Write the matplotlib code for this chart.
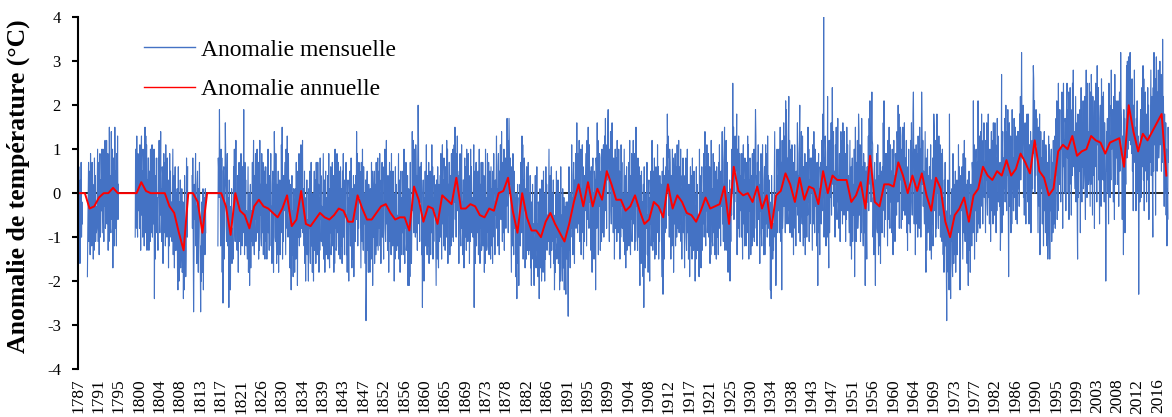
import numpy as np
import matplotlib
matplotlib.use("Agg")
import matplotlib.pyplot as plt

plt.rcParams['font.family'] = ['Liberation Serif', 'DejaVu Sans']
plt.rcParams['axes.unicode_minus'] = False

FIRST_YEAR = 1787
LABEL_EVERY = 52  # one category label every 52 months

# Monthly anomalies, tenths of degC, one row per year (Jan..Dec); None = no data
monthly_1787_1829 = [
    [5, -17, 6, -12, 0, -16, 3, -5, 7, -10, -2, -7],
    [None] * 12,
    [-19, -8, -1, 7, -11, -6, 5, -14, 9, -9, 0, -12],
    [7, -8, 2, -15, -1, -13, 8, -6, 4, -11, -3, -9],
    [-8, 2, 10, -11, -3, 7, -14, 4, 9, -10, 3, -4],
    [-4, 10, -9, 2, 10, -6, -11, 7, -3, 12, -8, -5],
    [-2, 12, -7, -5, 9, -13, 6, -11, 15, -3, 4, -8],
    [-9, 14, -3, -6, 10, -17, 4, 8, -5, -12, 15, 1],
    [-8, 5, -12, 9, -3, 13, -6, 2, None, None, None, None],
    [None] * 12,
    [None] * 12,
    [None] * 12,
    [None, None, -10, 10, 2, -8, 13, -5, -10, 9, -4, 3],
    [6, -8, 11, 0, -13, 8, 13, -5, 5, -10, 10, 7],
    [2, -12, 7, 15, -9, 13, -6, 11, -13, 3, -4, 8],
    [8, -13, 2, 5, -11, 10, -5, -9, 4, 11, -10, -2],
    [6, -7, 10, -24, 1, -15, 4, -4, 8, -9, -1, -6],
    [-13, 8, -1, 12, -6, -9, 4, 14, -5, 1, -11, 6],
    [4, -16, 1, 9, -9, -4, 7, -12, 11, -7, 2, -10],
    [8, -7, 3, -17, 0, -12, 9, -5, 5, -10, -2, -8],
    [-11, -1, 10, -14, -6, 4, -17, 1, 6, -13, 0, -7],
    [-13, 1, -18, -22, 6, -15, -20, -2, -12, 3, -17, -14],
    [-13, 1, -18, -16, -2, -24, -5, -22, 4, -14, -7, -19],
    [-13, 8, -7, -10, 6, None, None, None, None, None, None, None],
    [None, None, None, 4, -8, 8, -11, -27, -15, 2, -6, -1],
    [9, -12, -3, -16, 2, 5, -8, -18, 1, -5, 7, -10],
    [-15, -27, -12, -20, -2, -7, -18, 1, -22, -4, -13, -1],
    [-14, 1, -9, None, None, None, None, None, None, None, None, None],
    [None] * 12,
    [None, None, None, None, None, None, None, None, None, -12, 8, 5],
    [-1, 19, 4, 2, -12, 10, -9, 8, -18, 0, -25, 5],
    [6, -15, 0, 3, 16, 8, -7, -11, 2, 9, -12, -4],
    [-1, -26, 3, -18, -6, -22, -3, -11, 1, -16, -8, -13],
    [-15, 6, -3, 10, -8, -11, 2, 12, -7, -1, -13, 4],
    [2, -18, -1, 7, -11, -6, 5, -14, 9, -9, 0, -12],
    [6, -9, 1, 19, -2, -14, 7, -7, 3, -12, -4, -10],
    [-15, -5, 6, -18, -10, 0, -21, -3, 2, -17, -4, -11],
    [-7, 7, -12, -1, 12, -9, -14, 4, -6, 9, -11, -8],
    [-4, 10, -9, -7, 7, -15, 4, -13, 12, -5, 2, -10],
    [-12, 9, -6, -9, 7, -14, 1, 5, -8, -15, 6, -2],
    [-11, 2, -15, 6, -6, 10, -9, -1, -13, 4, -4, 1],
    [9, -12, -3, -16, 2, 5, -8, -18, 1, 14, 7, -10],
    [-11, 9, -8, -16, 2, -3, -14, 5, -18, 0, -9, 3],
]

monthly_1830_1879 = [
    [-14, 1, -9, 11, -6, 15, -15, -1, -11, 4, -4, 2],
    [7, -3, -14, 10, 2, -8, 13, -5, -10, 9, -4, 3],
    [-3, -17, 2, -9, -22, -1, 4, -14, -4, -19, 1, -2],
    [-4, -18, 1, -1, -15, 7, -12, 5, -21, -3, -10, 2],
    [9, -12, 3, 6, -10, 11, -4, -8, 5, 12, -9, -1],
    [1, -12, 5, -16, -4, -20, -1, -9, 3, -14, -6, -11],
    [-20, 1, -8, 5, -13, -16, -3, 7, -12, -6, -18, -1],
    [0, -20, -3, 5, -13, -8, 3, -16, 7, -11, -2, -14],
    [7, -8, 2, -18, -1, -13, 8, -6, 4, -11, -3, -9],
    [-12, -2, 9, -15, -7, 3, -18, 0, 5, -14, -1, -8],
    [-10, 4, -15, -4, 9, -12, -17, 1, -9, 6, -14, -11],
    [-7, 7, -12, -10, 4, -18, 1, -16, 10, -8, -1, -13],
    [-12, 9, -6, -9, 7, -14, 1, 5, -8, -15, 6, -2],
    [-12, 1, -16, 5, -7, 9, -10, -2, -14, 3, -5, 0],
    [7, -14, -5, -18, 0, 3, -10, -20, -1, -7, 5, -12],
    [-12, 8, -9, -17, 1, -4, -15, 4, -19, -1, -10, 2],
    [-11, 4, -6, 14, -3, 9, -12, 2, -8, 7, -1, 5],
    [4, -6, -17, 7, -1, -11, 10, -8, -13, 6, -7, 0],
    [-2, -16, 3, -29, -21, 0, 5, -13, -3, -18, 2, -1],
    [-4, -18, 1, -1, -15, 7, -12, 5, -21, -3, -10, 2],
    [5, -16, -1, 2, -14, 7, -8, -12, 1, 8, -13, -5],
    [5, -8, 9, -12, 0, -16, 3, -5, 7, -10, -2, -7],
    [-15, 6, -3, 10, -8, -11, 2, 12, -7, -1, -13, 4],
    [2, -18, -1, 7, -11, -6, 5, -14, 9, -9, 0, -12],
    [5, -10, 0, -20, -3, -15, 6, -8, 2, -13, -5, -11],
    [-12, -2, 9, -15, -7, 3, -18, 0, 5, -14, -1, -8],
    [-9, 5, -14, -3, 10, -11, -16, 2, -8, 7, -13, -10],
    [-10, 4, -21, -13, 1, -21, -2, -19, 7, -11, -4, -16],
    [-7, 14, -1, -4, 12, -9, 6, 10, -3, -10, 11, 3],
    [-9, 4, -13, 8, 20, 12, -7, 1, -11, 6, -2, 3],
    [7, -14, -5, -26, 0, 3, -10, -20, -1, -7, 5, -12],
    [-9, 11, -6, -14, 4, -1, -12, 7, -16, 2, -7, 5],
    [-14, 1, -9, 11, -6, 6, -15, -1, -11, 4, -4, 2],
    [0, -10, -21, 3, -5, -15, 6, -12, -17, 2, -11, -4],
    [4, -10, 9, -2, -15, 6, 11, -7, 3, -12, 8, 5],
    [1, -13, 6, 4, -10, 12, -7, 10, -16, 2, -5, 7],
    [7, -14, 1, 4, -12, 9, -6, -10, 3, 10, -11, -3],
    [11, -2, 15, -6, 6, -10, 9, 1, 13, -4, 4, -1],
    [-16, 5, -4, 9, -9, -12, 1, 11, -8, -2, -14, 3],
    [3, -17, 0, 8, -10, -5, 6, -13, 10, -8, 1, -11],
    [9, -6, 4, -16, 1, -11, 10, -4, 6, -9, -1, -7],
    [-10, 0, 11, -26, -5, 5, -16, 2, 7, -12, 1, -6],
    [-9, 5, -14, -3, 10, -11, -16, 2, -8, 7, -13, -10],
    [-7, 7, -12, -10, 4, -18, 1, -16, 10, -8, -1, -13],
    [-12, 9, -6, -9, 7, -14, 1, 5, -8, -15, 6, -2],
    [-12, 1, -16, 5, -7, 9, -10, -2, -14, 3, -5, 0],
    [13, -8, 1, -12, 6, 9, -4, -14, 5, -1, 11, -6],
    [-6, 14, -3, -11, 7, 2, -9, 10, -13, 5, -4, 8],
    [-8, 7, -3, 17, 0, 12, -9, 5, 17, 10, 2, 8],
    [3, -7, -18, 6, -2, -12, 9, -9, -14, 5, -8, -1],
]

monthly_1880_1929 = [
    [-5, -19, 0, -11, -24, -3, 2, -16, -6, -21, -1, -4],
    [2, -12, 7, 5, -9, 13, -6, 11, -15, 3, -4, 8],
    [4, -17, -2, 1, -15, 6, -9, -13, 0, 7, -14, -6],
    [0, -13, 4, -17, -5, -21, -2, -10, 2, -15, -7, -12],
    [-21, 0, -9, 4, -14, -17, -4, 6, -13, -7, -19, -2],
    [-4, -24, -7, 1, -17, -12, -1, -20, 3, -15, -6, -18],
    [5, -10, 0, -20, -3, -15, 6, -8, 2, -13, -5, -11],
    [-11, -1, 10, -14, -6, 4, -17, 1, 6, -13, 0, -7],
    [-11, 3, -16, -5, -22, -13, -18, 0, -10, 5, -15, -12],
    [-11, 3, -16, -14, 0, -22, -3, -20, 6, -12, -5, -17],
    [-20, 1, -14, -17, -1, -22, -7, -3, -16, -23, -2, -10],
    [-15, -2, -19, -28, -10, 6, -13, -5, -17, 0, -8, -3],
    [11, -10, -1, -14, 4, 7, -6, -16, 3, -3, 9, -8],
    [-4, 16, -1, -9, 9, 4, -7, 12, -11, 7, -2, 10],
    [-14, 1, -9, 11, -6, 6, -15, -1, -11, 4, -4, 2],
    [9, -1, -12, 12, 4, -6, 15, -3, -8, 11, -2, 5],
    [1, -13, 6, -5, -18, 3, 8, -10, 0, -15, 5, 2],
    [3, -22, 8, 6, -8, 16, -5, 12, -14, 4, -3, 9],
    [8, -13, 2, 5, -11, 10, -5, -9, 4, 11, -10, -2],
    [13, 0, 17, -4, 8, -8, 11, 3, 15, 19, 6, 1],
    [-11, 10, 1, 14, -4, -7, 6, 16, -3, 3, -9, 8],
    [5, -15, 2, 10, -8, -3, 8, -11, 12, -6, 3, -9],
    [10, -5, 5, -15, 2, -10, 11, -3, 7, -8, 0, -6],
    [-11, -1, 10, -14, -6, 4, -17, 1, 6, -13, 0, -7],
    [-7, 7, -12, -1, 12, -9, -14, 4, -6, 9, -11, -8],
    [-2, 12, -7, -5, 9, -13, 6, -11, 15, -3, 4, -8],
    [-13, 8, -7, -10, 6, -15, -21, 4, -9, -16, 5, -3],
    [-15, -2, -19, 2, -26, 6, -13, -5, -17, 0, -8, -3],
    [7, -14, -5, -18, 0, 3, -10, -20, -1, -7, 5, -12],
    [-8, 12, -5, -13, 5, 0, -11, 8, -15, 3, -6, 6],
    [-14, 1, -9, 11, -6, 6, -15, -1, -11, 4, -4, 2],
    [2, -8, -19, 5, -3, -23, 8, -10, -15, 4, -9, -2],
    [6, -8, 11, 0, 18, 8, 13, -5, 5, -10, 10, 7],
    [-1, -15, 4, 2, -12, 10, -9, 8, -18, 0, -7, 5],
    [9, -12, 3, 6, -10, 11, -4, -8, 5, 12, -9, -1],
    [6, -7, 10, -11, 1, -15, 4, -4, 8, -9, -1, -6],
    [-17, 4, -5, 8, -10, -13, 0, 10, -9, -3, -15, 2],
    [1, -19, -2, 6, -12, -7, 4, -15, 8, -10, -1, -13],
    [5, -10, 0, -20, -3, -15, 6, -8, 2, -13, -5, -11],
    [-11, -19, 10, -14, -6, 4, -17, 1, 6, -13, 0, -7],
    [-5, 9, -10, 1, 14, -7, -12, 6, -4, 11, -9, -6],
    [-5, 9, -10, -8, 6, -16, 3, -14, 12, -6, 1, -11],
    [-12, 9, -6, -9, 7, -14, 1, 5, -8, -15, 6, -2],
    [-10, 3, -14, 7, -5, 11, -8, 0, -12, 5, -3, 2],
    [14, -7, 2, -11, 7, 10, 15, -13, 6, 0, 12, -5],
    [-13, 7, -10, -18, 0, -5, -16, 3, -20, -2, -11, 1],
    [-5, 10, 0, 25, 3, 15, -6, 8, -2, 13, 5, 11],
    [7, 18, -14, 10, 2, -8, 13, -5, -10, 9, -4, 3],
    [4, -10, 9, -2, -15, 6, 11, -7, 3, -12, 8, 5],
    [2, -12, 7, 5, -9, 13, -6, 11, -15, 3, -4, 8],
]

monthly_1930_1979 = [
    [7, -14, 1, 4, -12, 9, -6, -10, 3, 10, -11, -3],
    [9, 19, 13, -8, 4, -12, 7, -1, 11, -6, 2, -3],
    [-16, 5, -4, 9, -9, -12, 1, 11, -8, -2, -14, 3],
    [6, -14, 3, 11, -7, -2, 9, -10, 13, -5, 4, -8],
    [3, -12, -2, -22, -5, -24, 4, -10, 0, -15, -7, -13],
    [-7, 3, 14, -10, -2, -21, -13, 5, 10, -9, 4, -3],
    [-4, 10, -9, 2, 15, -6, -11, 7, -22, 12, -8, -5],
    [2, 16, -3, -1, 13, -9, 21, -7, 19, 1, 8, -4],
    [-7, 14, 22, -4, 12, -9, 6, 10, -3, -10, 11, 3],
    [-10, 3, -14, 7, -5, 11, -8, 0, -12, 5, -3, 2],
    [16, -5, 4, -9, 9, 12, 20, -11, 8, 2, 14, -3],
    [-7, 13, -4, -12, 6, 1, -10, 9, -14, 4, -5, 7],
    [-10, 5, -5, 15, -2, 10, -11, 3, -7, 8, 0, 6],
    [8, -2, -13, 11, 3, -7, 14, -4, -9, 10, -3, 4],
    [2, -12, 7, -4, -21, 4, 9, -9, 1, -14, 6, 3],
    [7, -7, 12, 10, -4, 18, -1, 41, -10, 8, 1, 13],
    [9, -12, 3, 6, -10, 22, -4, -8, -17, 12, -9, -1],
    [12, -1, 16, -5, 7, 24, 10, 2, 14, -3, 5, 0],
    [-10, 11, 2, 15, -3, -6, 7, 17, -2, 4, -8, 9],
    [9, -11, 6, 14, -4, 1, 12, -7, 16, -2, 7, -5],
    [14, -1, 9, -11, 6, -6, 15, 1, 11, -4, 4, -2],
    [-9, 1, 12, -12, -4, 6, -15, 3, 8, -11, 2, -5],
    [-4, 10, -19, 2, 15, -6, -11, 7, -3, 12, -8, -5],
    [18, 14, -5, -3, 11, -11, 8, -9, 17, -1, 6, -6],
    [-12, 9, -6, -9, 7, -21, 1, 5, -8, -15, 6, -2],
    [0, 13, -4, 17, 5, 21, 2, 10, -2, 15, 23, 12],
    [11, -10, -1, -14, 4, 7, -6, -21, 3, -3, 9, -8],
    [-9, 11, -6, -14, 4, -1, -12, 7, -16, 2, -7, 5],
    [-9, 6, -4, 16, -1, 21, -10, 4, -6, 9, 1, 7],
    [9, -1, -12, 12, 4, -6, 15, -3, -8, 11, -2, 5],
    [5, -9, 10, -1, -14, 7, 12, -6, 4, -11, 9, 6],
    [9, -5, 14, 12, -2, 20, 1, 18, -8, 10, 3, 15],
    [13, -8, 7, 10, -6, 15, 0, -4, 9, 16, -5, 3],
    [8, -5, 12, -9, 3, -13, 6, -2, 10, -7, 1, -4],
    [-9, 12, 3, 16, -2, -5, 8, 18, 23, 5, -7, 10],
    [6, -14, 3, 11, -7, -2, 9, -10, 13, -5, 4, -8],
    [15, 0, 10, -10, 7, 23, 16, 2, 12, -3, 5, -1],
    [-7, 3, 14, -10, -18, 8, -13, 5, 10, -9, 4, -3],
    [-8, 6, -13, -2, 11, -10, -15, 3, -7, 8, -12, -9],
    [18, 15, -4, -2, 12, -10, 9, -8, 18, 0, 7, -5],
    [-8, 13, -2, -5, 11, -10, 5, 9, -4, -11, 10, 2],
    [-14, -1, -18, 3, -9, 7, -12, -4, -16, -29, -7, -2],
    [3, -18, -9, -22, 18, -1, -14, -24, -5, -11, 1, -16],
    [-19, 9, -8, -16, 2, -3, -14, 5, -18, 0, -9, 3],
    [-14, 1, -9, 11, -6, 6, -15, -22, -11, 4, -4, 2],
    [6, -4, -15, 9, 1, -9, 12, -6, -11, 8, -5, 2],
    [-2, -16, 3, -8, -21, 0, 5, -13, -3, -18, 2, -1],
    [2, -12, 7, 5, -9, 21, -6, 11, -15, 3, -4, 8],
    [10, -11, 4, 7, -9, 21, -3, -7, 6, 13, -8, 0],
    [14, 1, 18, -3, 9, -7, 12, 4, 16, -1, 7, 2],
]

monthly_1980_2018 = [
    [-9, 12, 3, 16, -2, -5, 8, 18, -1, 5, -7, 10],
    [9, -11, 6, 14, -4, 1, 12, -7, 16, -2, 7, -5],
    [16, 1, 11, -9, 8, -4, 17, 3, 13, -2, 6, 0],
    [-3, 7, -13, -6, 2, 27, -9, 9, 14, -5, 8, 1],
    [3, 17, -2, 9, 20, 1, -4, 14, 4, 19, -1, -19],
    [2, 16, -3, -1, 13, -9, 10, -7, 19, 1, 8, -4],
    [-4, 17, 2, -1, 15, -6, 9, 13, 0, -7, 14, 6],
    [1, 14, -3, 18, 6, 22, 3, 11, 32, 16, 8, 13],
    [20, -1, 8, -5, 13, 16, 3, -7, 12, 6, 18, 1],
    [-2, 18, 1, -7, 11, 6, -5, 14, -9, 9, 0, 12],
    [1, 16, 29, 26, 9, 21, 0, 14, 4, 19, 11, 17],
    [12, 2, -9, 15, 7, -3, 18, -14, -5, 14, 1, 8],
    [7, -7, 12, 1, -12, 9, 14, -4, 6, -9, 11, 8],
    [2, -12, 7, -15, -9, 13, -6, 11, -15, 3, -4, 8],
    [10, -11, 4, 7, -9, 12, -3, -7, 6, 13, -8, 0],
    [17, 4, 21, -6, 12, -4, 25, 7, 19, 2, 10, 5],
    [-2, 19, 10, 23, 5, -8, 15, 25, 6, 12, 0, 17],
    [16, -4, 13, 21, 25, 8, 19, 0, 23, -6, 14, 2],
    [24, 9, 19, -5, 16, 4, 25, 11, 28, 6, 14, 8],
    [1, 11, 22, -2, 6, 16, -5, -15, 18, -1, 12, 5],
    [5, 19, -9, 11, 24, 3, -2, 16, 6, 21, 1, 4],
    [8, 22, 3, -6, 19, 28, 16, -1, 25, 7, 14, 2],
    [4, 25, 10, -3, 23, 2, 27, 21, 8, -5, 22, 14],
    [4, 17, -8, 21, 9, 25, 6, 14, -2, 29, 11, 16],
    [24, 3, 12, -7, 17, 20, 7, -3, 26, 10, 22, 5],
    [3, 23, 6, -2, 16, 11, 0, -20, -4, 14, 5, 17],
    [0, 15, -7, 25, 8, 20, -1, 13, 3, 28, 10, 16],
    [19, 9, -2, 22, 14, -6, 27, 7, 2, 21, 8, 15],
    [16, 2, 21, 10, -3, 18, 23, 5, 15, 32, 20, 17],
    [8, -6, 13, 11, -14, 19, 0, 17, -9, 9, 2, 14],
    [29, 8, 30, 26, 10, 31, 16, 12, 25, 32, 11, 19],
    [22, 9, 26, 5, 17, -4, 20, 12, 28, 7, 15, 10],
    [-4, 17, 8, 21, 3, 0, 13, -23, 4, 10, -2, 15],
    [19, -1, 16, 24, 6, 11, 29, 3, 26, -4, 17, 5],
    [23, 8, 18, -2, 15, 3, 24, 10, 20, -6, 13, 7],
    [7, 17, 28, 4, 12, 22, 1, -10, 24, 5, 32, 11],
    [12, 26, -5, 18, 31, 10, 5, 23, 13, 28, 8, 11],
    [16, 30, 11, 13, 27, 5, 24, 7, 35, 15, 22, 10],
    [-3, 18, 3, 0, 16, -5, 10, -12, 1, -6, 15, 7],
]

# Annual (12-month) anomaly, degC, one value per year
annual_1787_1849 = [
    0.0, 0.0, -0.35, -0.3, -0.1, 0.0, 0.0, 0.12, 0.0, 0.0, 0.0, 0.0, 0.0,
    0.25, 0.05, 0.0, 0.0, 0.0, 0.0, -0.3, -0.45, -0.9, -1.3, 0.0, 0.0, -0.2,
    -0.9, 0.0, 0.0, 0.0, 0.0, -0.3, -0.95, 0.0, -0.4, -0.5, -0.8, -0.3, -0.15,
    -0.3, -0.35, -0.45, -0.55, -0.35, -0.05, -0.75, -0.6, 0.05, -0.7, -0.75,
    -0.6, -0.45, -0.55, -0.6, -0.5, -0.35, -0.4, -0.65, -0.65, -0.05, -0.35,
    -0.6, -0.6,
]
annual_1850_1909 = [
    -0.45, -0.3, -0.25, -0.45, -0.6, -0.55, -0.55, -0.85, 0.15, -0.15,
    -0.65, -0.3, -0.35, -0.7, -0.05, -0.15, -0.25, 0.35, -0.35, -0.35,
    -0.25, -0.3, -0.5, -0.55, -0.35, -0.4, 0.0, 0.05, 0.35, -0.4,
    -0.9, 0.0, -0.55, -0.85, -0.85, -1.0, -0.65, -0.45, -0.7, -0.9,
    -1.1, -0.7, -0.2, 0.2, -0.3, 0.25, -0.3, 0.1, -0.15, 0.5,
    0.2, -0.15, -0.15, -0.4, -0.3, -0.05, -0.4, -0.7, -0.6, -0.2,
]
annual_1910_1969 = [
    -0.3, -0.55, 0.2, -0.35, -0.05, -0.2, -0.45, -0.5, -0.65, -0.4,
    -0.1, -0.35, -0.3, -0.25, 0.15, -0.7, 0.6, 0.05, -0.05, 0.0,
    -0.2, 0.15, -0.35, -0.05, -0.8, -0.05, 0.05, 0.45, 0.2, -0.2,
    0.35, -0.15, 0.15, 0.1, -0.25, 0.5, 0.0, 0.4, 0.3, 0.3,
    0.3, -0.2, -0.05, 0.25, -0.35, 0.85, -0.2, -0.3, 0.2, 0.2,
    0.15, 0.7, 0.4, 0.0, 0.4, 0.05, 0.45, -0.05, -0.4, 0.35,
]
annual_1970_2018 = [
    0.1, -0.65, -1.0, -0.5, -0.35, -0.1, -0.65, -0.05, 0.1, 0.6,
    0.4, 0.3, 0.5, 0.4, 0.75, 0.4, 0.55, 0.9, 0.7, 0.45,
    1.2, 0.5, 0.35, -0.05, 0.1, 0.95, 1.1, 1.0, 1.3, 0.85,
    0.95, 1.0, 1.3, 1.2, 1.15, 0.9, 1.15, 1.2, 1.25, 0.6,
    2.0, 1.4, 0.95, 1.35, 1.2, 1.4, 1.6, 1.8, 0.4,
]

rows = (monthly_1787_1829 + monthly_1830_1879 + monthly_1880_1929
        + monthly_1930_1979 + monthly_1980_2018)
assert all(len(r) == 12 for r in rows)
monthly = np.array([np.nan if v is None else v / 10.0 for r in rows for v in r])
annual = np.array(annual_1787_1849 + annual_1850_1909 + annual_1910_1969 + annual_1970_2018)

n = len(monthly)
month_idx = np.arange(n)
month_year = FIRST_YEAR + month_idx // 12
annual_idx = np.arange(len(annual)) * 12 + 5.5

W, H = 1172, 417
fig = plt.figure(figsize=(W / 100, H / 100), dpi=100)
ax = fig.add_axes([78 / W, 48 / H, 1090.5 / W, 351.7 / H])

ax.axhline(0, color='black', lw=1.2, zorder=1)
ax.plot(month_idx, monthly, color='#4472C4', lw=0.8, zorder=2, label='Anomalie mensuelle')
ax.plot(annual_idx, annual, color='#FF0000', lw=1.4, zorder=3, label='Anomalie annuelle')

ax.set_xlim(0, n - 1)
ax.set_ylim(-4, 4)
ax.set_yticks(np.arange(-4, 5, 1))
ax.set_yticklabels([str(v) for v in range(-4, 5)])
tick_pos = month_idx[::LABEL_EVERY]
ax.set_xticks(tick_pos)
ax.set_xticklabels([str(y) for y in month_year[::LABEL_EVERY]], rotation=90)

for s in ('top', 'right', 'bottom'):
    ax.spines[s].set_visible(False)
ax.spines['left'].set_linewidth(1.5)
ax.tick_params(axis='y', direction='out', length=4.3, width=1.5, pad=8, labelsize=12)
ax.tick_params(axis='x', length=0, pad=7, labelsize=12.5)

ax.set_ylabel('Anomalie de température (°C)', fontsize=18.5, fontweight='bold')
ax.yaxis.set_label_coords(-0.044, 0.52)

leg = ax.legend(loc='upper left', bbox_to_anchor=(144 / W, 1 - 39 / H),
                bbox_transform=fig.transFigure, frameon=False, fontsize=17,
                handlelength=2.15, handletextpad=0.25, labelspacing=0.75,
                borderpad=0, borderaxespad=0)
for line in leg.get_lines():
    line.set_linewidth(1.0)

fig.savefig('out.png', dpi=100)
